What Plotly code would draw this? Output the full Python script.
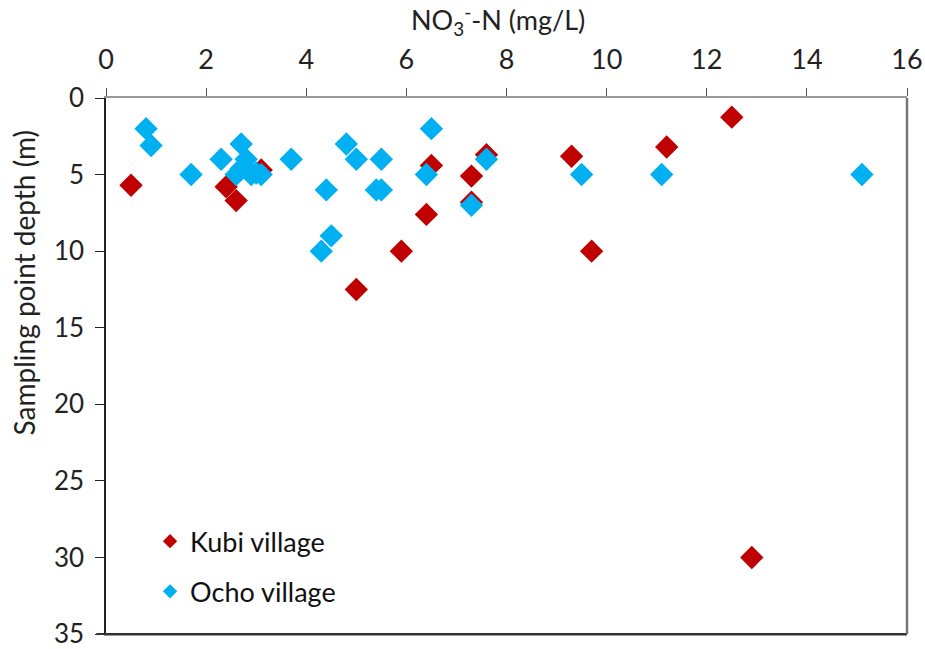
import plotly.graph_objects as go

kubi_no3 = [0.5, 2.4, 2.6, 3.1, 5.0, 5.9, 6.4, 6.5, 7.3, 7.3, 7.6, 9.3, 9.7, 11.2, 12.5, 12.9]
kubi_depth = [5.7, 5.8, 6.7, 4.7, 12.5, 10.0, 7.6, 4.4, 5.1, 6.8, 3.7, 3.8, 10.0, 3.2, 1.25, 30.0]

ocho_no3 = [0.8, 0.9, 1.7, 2.3, 2.7, 2.8, 2.6, 2.7, 2.9, 3.0, 3.1, 3.7, 4.4, 4.8, 5.0, 5.5,
            5.4, 5.5, 4.5, 4.3, 6.5, 6.4, 7.6, 7.3, 9.5, 11.1, 15.1]
ocho_depth = [2.0, 3.1, 5.0, 4.0, 3.0, 4.0, 5.0, 4.6, 5.0, 4.9, 5.0, 4.0, 6.0, 3.0, 4.0, 4.0,
              6.0, 6.0, 9.0, 10.0, 2.0, 5.0, 4.0, 7.0, 5.0, 5.0, 5.0]

x_ticks = [0, 2, 4, 6, 8, 10, 12, 14, 16]
y_ticks = [0, 5, 10, 15, 20, 25, 30, 35]

RED = "#C00000"
BLUE = "#00B0F0"
FONT = "Lato"
FS = 27

fig = go.Figure()
fig.add_trace(go.Scatter(x=kubi_no3, y=kubi_depth, mode="markers", name="Kubi village",
                         marker=dict(symbol="diamond", size=18, color=RED), showlegend=False))
fig.add_trace(go.Scatter(x=ocho_no3, y=ocho_depth, mode="markers", name="Ocho village",
                         marker=dict(symbol="diamond", size=18, color=BLUE), showlegend=False))
# legend entries
fig.add_trace(go.Scatter(x=[None], y=[None], mode="markers", name="Kubi village", legendgroup="k",
                         marker=dict(symbol="diamond", size=11, color=RED)))
fig.add_trace(go.Scatter(x=[None], y=[None], mode="markers", name="Ocho village", legendgroup="o",
                         marker=dict(symbol="diamond", size=11, color=BLUE)))

fig.update_layout(
    width=925, height=649,
    margin=dict(l=106, r=18, t=98, b=15, autoexpand=False),
    paper_bgcolor="white", plot_bgcolor="white",
    font=dict(family=FONT, size=FS, color="#222"),
    showlegend=True,
    legend=dict(x=0.055, y=0.218, xanchor="left", yanchor="top", traceorder="grouped",
                tracegroupgap=12, font=dict(size=FS, family=FONT, color="#111"),
                bgcolor="rgba(0,0,0,0)"),
    xaxis=dict(side="top", range=[0, 16], tickvals=x_ticks, ticks="outside", ticklen=8,
               tickcolor="#555", showline=True, linecolor="#999", linewidth=2, mirror=True,
               showgrid=False, zeroline=False, ticklabelstandoff=8, automargin=False,
               ticklabeloverflow="allow"),
    yaxis=dict(range=[35, 0], tickvals=y_ticks, ticks="outside", ticklen=9,
               tickcolor="#222", showline=True, linecolor="#222", linewidth=1.5, mirror=False,
               showgrid=False, zeroline=False, ticklabelstandoff=6, automargin=False,
               ticklabeloverflow="allow", tickfont=dict(size=26)),
    annotations=[
        dict(text="NO<sub>3</sub><sup>-</sup>-N (mg/L)", xref="paper", yref="paper",
             x=0.49, y=1.145, xanchor="center", yanchor="middle", showarrow=False,
             font=dict(size=FS, family=FONT, color="#222")),
        dict(text="Sampling point depth (m)", xref="paper", yref="paper",
             x=-0.103, y=0.655, xanchor="center", yanchor="middle", showarrow=False,
             textangle=-90, font=dict(size=28, family=FONT, color="#222")),
    ],
    shapes=[
        dict(type="line", xref="paper", yref="paper", x0=-0.012, x1=1, y0=0, y1=0,
             line=dict(color="#333", width=2)),
        dict(type="line", xref="paper", yref="paper", x0=1, x1=1, y0=0, y1=1,
             line=dict(color="#777", width=2.5)),
    ],
)

fig.write_html("out.html")
